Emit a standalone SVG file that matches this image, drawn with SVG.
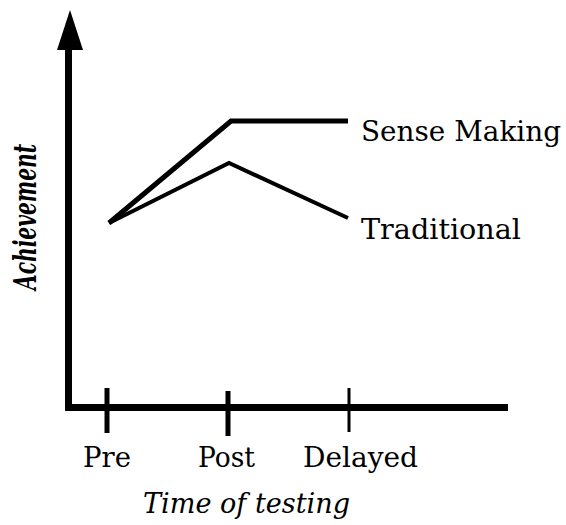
<svg xmlns="http://www.w3.org/2000/svg" width="566" height="525" viewBox="0 0 566 525">
<style>
.t{font-family:"DejaVu Serif","Liberation Serif",serif;font-size:27px;fill:#000}
.i{font-style:italic}
.ax{stroke:#000;stroke-width:7;fill:none}
.ln{stroke:#000;fill:none;stroke-linejoin:miter}
</style>
<rect width="566" height="525" fill="#fff"/>
<g id="axes">
<polygon points="70,10 57,50 83,50" fill="#000"/>
<path class="ax" d="M68.5,48 V407.5 H508"/>
<line class="ln" x1="107" y1="388" x2="107" y2="433" stroke-width="5"/>
<line class="ln" x1="228" y1="391" x2="228" y2="436" stroke-width="5"/>
<line class="ln" x1="349" y1="388" x2="349" y2="432" stroke-width="3"/>
</g>
<g id="connectors">
<polyline class="ln" points="109,223 231,121 348,121" stroke-width="5"/>
<polyline class="ln" points="109,223 229,163 348,218" stroke-width="4"/>
</g>
<g id="labels">
<text class="t" x="361" y="141" textLength="200" lengthAdjust="spacingAndGlyphs">Sense Making</text>
<text class="t" x="361" y="239" textLength="160" lengthAdjust="spacingAndGlyphs">Traditional</text>
<text class="t" x="83" y="467" textLength="48" lengthAdjust="spacingAndGlyphs">Pre</text>
<text class="t" x="198" y="467" textLength="57" lengthAdjust="spacingAndGlyphs">Post</text>
<text class="t" x="303" y="467" textLength="115" lengthAdjust="spacingAndGlyphs">Delayed</text>
<text class="t i" x="143" y="513" textLength="207" lengthAdjust="spacingAndGlyphs">Time of testing</text>
<text class="t i" style="font-size:31px;font-weight:bold" transform="translate(36,290) rotate(-90)" textLength="146" lengthAdjust="spacingAndGlyphs">Achievement</text>
</g>
</svg>
